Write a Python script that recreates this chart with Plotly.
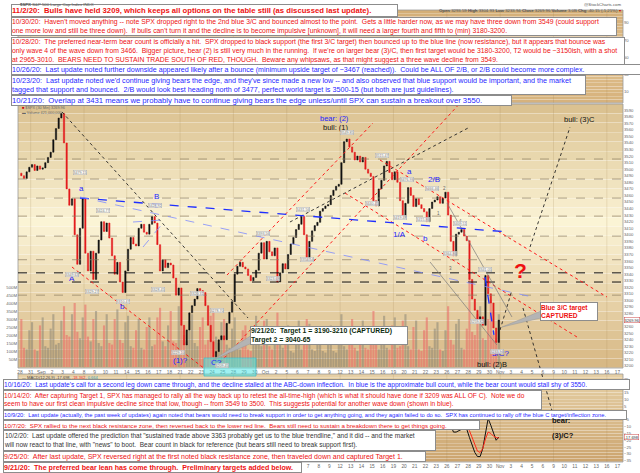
import plotly.graph_objects as go

W, H = 640, 473
FONT = "Liberation Sans, Arial, sans-serif"
RED = "#ee1111"
BLUE = "#1f1fff"

# trading days on the time axis, Aug 28 .. Nov 17 2020 (one tick per session)
day_labels = ["28", "31", "Sep", "2", "3", "4", "8", "9", "10", "11", "14", "15", "16", "17", "18",
              "21", "22", "23", "24", "25", "28", "29", "30", "Oct", "2", "5", "6", "7", "8", "9",
              "12", "13", "14", "15", "16", "19", "20", "21", "22", "23", "26", "27", "28", "29",
              "30", "Nov", "3", "4", "5", "6", "9", "10", "11", "12", "13", "16", "17"]

# SPX path, four readings per session (Aug 28 .. Oct 30)
first_open = 3494
spx = [
    3490, 3486, 3496, 3503,  3507, 3498, 3505, 3500,  3502, 3510, 3518, 3526,
    3545, 3562, 3578, 3585,  3540, 3470, 3445, 3455,  3400, 3355, 3410, 3455,
    3372, 3345, 3375, 3332,  3372, 3392, 3420, 3405,  3418, 3395, 3368, 3340,
    3358, 3328, 3312, 3345,  3378, 3396, 3386, 3383,  3410, 3416, 3404, 3401,
    3416, 3428, 3418, 3385,  3345, 3362, 3350, 3357,  3354, 3334, 3308, 3319,
    3262, 3232, 3255, 3281,  3292, 3302, 3318, 3315,  3312, 3292, 3262, 3237,
    3214, 3222, 3240, 3246,  3240, 3265, 3282, 3298,  3340, 3352, 3358, 3351,
    3348, 3338, 3330, 3335,  3346, 3372, 3388, 3363,  3390, 3374, 3368, 3380,
    3328, 3342, 3356, 3348,  3370, 3386, 3396, 3408,  3416, 3428, 3400, 3361,
    3390, 3406, 3414, 3419,  3436, 3440, 3444, 3446,  3460, 3468, 3474, 3477,
    3510, 3542, 3546, 3534,  3526, 3514, 3520, 3511,  3518, 3500, 3494, 3489,
    3452, 3444, 3470, 3483,  3505, 3512, 3495, 3484,  3496, 3480, 3452, 3427,
    3448, 3472, 3460, 3443,  3455, 3446, 3440, 3435,  3420, 3440, 3450, 3453,
    3458, 3448, 3456, 3465,  3430, 3390, 3368, 3401,  3404, 3408, 3398, 3391,
    3332, 3302, 3285, 3271,  3275, 3262, 3338, 3310,  3296, 3258, 3236, 3270,
]

# volume per bar, millions
volume = [
    300, 120, 110, 230,  280, 110, 100, 260,  310, 130, 120, 240,  330, 140, 150, 290,
    380, 200, 190, 330,  400, 220, 180, 310,  390, 190, 160, 300,  350, 150, 130, 260,
    330, 150, 140, 300,  360, 170, 150, 280,  320, 130, 120, 230,  300, 120, 110, 250,
    310, 130, 140, 310,  370, 160, 130, 260,  350, 160, 150, 380,  420, 200, 160, 290,
    330, 150, 130, 250,  310, 140, 170, 320,  360, 190, 150, 280,  300, 140, 120, 240,
    310, 120, 110, 230,  260, 110, 100, 220,  320, 150, 130, 290,  300, 130, 110, 240,
    340, 140, 120, 250,  260, 100, 90, 210,  290, 110, 180, 300,  270, 110, 100, 220,
    250, 100, 90, 200,  260, 100, 90, 220,  330, 130, 110, 250,  300, 120, 100, 230,
    290, 120, 110, 240,  350, 140, 110, 240,  320, 120, 110, 260,  310, 120, 130, 290,
    330, 130, 110, 250,  290, 110, 100, 230,  310, 130, 120, 240,  280, 110, 100, 230,
    380, 170, 140, 270,  300, 120, 110, 240,  590, 220, 200, 330,  380, 180, 170, 300,
    420, 200, 180, 330,
]

# MACD(12,26,9) from Oct 12 (session 30) onward
macd_start = 30
macd_line = [
    18, 22, 24, 24,  22, 19, 18, 16,  15, 12, 10, 8,  3, 0, 1, 3,  5, 6, 5, 3,
    2, 0, -4, -8,  -6, -3, -3, -4,  -3, -4, -5, -6,  -8, -7, -5, -3,  -2, -2, -2, -1,
    -4, -9, -14, -14,  -13, -12, -12, -12,  -18, -24, -29, -32,  -32, -26, -14, -4,
    -9, -15, -20, -17.698,
]
macd_signal = [
    12, 14, 16, 18,  19, 19, 19, 18,  17, 16, 15, 13,  11, 9, 7, 6,  6, 6, 6, 5,
    5, 4, 2, 0,  -1, -1, -2, -2,  -2, -3, -3, -4,  -4, -5, -5, -5,  -4, -4, -3, -3,
    -3, -4, -6, -8,  -9, -10, -10, -11,  -13, -18, -24, -28,  -29, -26, -19, -14,
    -15, -17, -18, -18.362,
]

# marked pivots (session position, price)
pivot_day = [5.6, 4.9, 6.75, 7.8, 9.65, 12.65, 12.95, 14.8, 16.6, 18.45, 18.95, 22.8, 23.7,
             26.9, 26.5, 30.65, 33.9, 36.3, 33.0, 35.6, 37.8, 38.6, 41.2, 40.3, 43.6, 42.8, 44.7]
pivot_price = [3479.15, 3349.63, 3329.27, 3424.77, 3310.47, 3428.92, 3328.45, 3229.10, 3320.31,
               3278.70, 3209.45, 3393.56, 3323.69, 3354.54, 3431.56, 3549.85, 3515.47, 3476.93,
               3440.45, 3419.48, 3415.86, 3466.46, 3409.51, 3364.86, 3341.05, 3259.82, 3233.94]
pivot_shift = [10, -7, -10, 8, -8, 10, -8, -6, -6, 4, -6, 6, 6, 5, 5, 4, 4, 5, 5, 5, 5, 3, 5, 4, 4, 5, -8]

# trend lines: (session0, price0, session1, price1)
red_lines = [(4.87, 3350.9, 18.93, 3175.6), (19.40, 3338.7, 33.08, 3570.4),
             (17.24, 3178.7, 41.52, 3605.5), (33.74, 3514.0, 55.01, 3305.2),
             (30.46, 3463.7, 52.20, 3244.2)]
black_lines = [(3.94, 3587.2, 21.37, 3273.2), (25.30, 3419.5, 42.17, 3564.3),
               (47.80, 3381.4, 51.55, 3564.3), (44.99, 3254.9, 46.11, 3315.9),
               (47.14, 3288.4, 49.86, 3132.9)]
gray_lines = [(40.02, 3448.5, 46.11, 3274.7), (38.43, 3358.5, 44.70, 3232.0)]
blue_thick = [(5.62, 3456.1, 45.74, 3404.3), (43.58, 3335.7, 44.42, 3247.3)]
blue_thin = [(5.62, 3457.6, 48.45, 3303.7), (10.59, 3419.5, 13.40, 3422.6),
             (11.53, 3381.4, 13.40, 3418.0)]
gray_levels = [3515.5, 3485, 3456, 3428.5, 3398, 3362, 3308]
black_levels = [3342, 3328]

# wave labels: (text, session, price, colour, size)
wave_labels = [
    ("a", 5.72, 3471, BLUE, 8), ("B", 12.75, 3459, BLUE, 8), ("c", 12.75, 3445, BLUE, 8),
    ("A", 4.87, 3334, BLUE, 8), ("b", 9.65, 3291, BLUE, 8), ("(1)?", 15.0, 3209, BLUE, 8),
    ("C?", 18.37, 3205, BLUE, 8), ("bear: (2)", 29.5, 3578, BLUE, 7.5),
    ("bull: (1)", 29.6, 3564, "#111", 7.5), ("a", 36.46, 3497, BLUE, 8),
    ("2/B", 38.8, 3485, BLUE, 8), ("1/A", 35.6, 3401, BLUE, 8), ("b", 37.96, 3395, BLUE, 8),
    ("1", 39.18, 3433, "#666", 4.5), ("2", 39.74, 3471, "#666", 4.5),
    ("3", 40.3, 3349, "#666", 4.5), ("4", 41.33, 3421, "#666", 4.5),
    ("3/C?", 45.0, 3219, BLUE, 8), ("bull: (2)B", 44.2, 3203, "#111", 7.5),
    ("bull: (3)C", 52.39, 3576, "#111", 7.5),
]

week_starts = [1, 6, 10, 15, 20, 25, 30, 35, 40, 45, 50, 55]


def py(y):
    return 1 - y / H


X0, X1 = 18, 623
xs = [i / 4 + 0.125 for i in range(len(spx))]
opens = [first_open] + spx[:-1]
highs = [max(o, c) for o, c in zip(opens, spx)]
lows = [min(o, c) for o, c in zip(opens, spx)]
vol_colors = ["rgba(120,120,110,0.45)" if c >= o else "rgba(235,100,100,0.55)"
              for o, c in zip(opens, spx)]
macd_x = xs[macd_start * 4:]

fig = go.Figure()
fig.add_trace(go.Bar(x=xs, y=volume, width=0.2, marker=dict(color=vol_colors, line_width=0),
                     xaxis="x", yaxis="y"))
fig.add_trace(go.Candlestick(x=xs, open=opens, high=highs, low=lows, close=spx,
                             xaxis="x", yaxis="y2", whiskerwidth=0,
                             increasing=dict(line=dict(color="#111", width=0.5), fillcolor="#111"),
                             decreasing=dict(line=dict(color="#e31a1c", width=0.5), fillcolor="#e31a1c")))
fig.add_trace(go.Scatter(x=macd_x, y=macd_line, mode="lines", line=dict(color="#111", width=1),
                         xaxis="x2", yaxis="y3"))
fig.add_trace(go.Scatter(x=macd_x, y=macd_signal, mode="lines", line=dict(color="#ff2a1a", width=1),
                         xaxis="x2", yaxis="y3"))
fig.add_trace(go.Scatter(x=[None], y=[None], xaxis="x3", yaxis="y4"))

shapes = []


def gradient(y_top, y_bot, stops, n=28):
    h = (y_bot - y_top) / n
    for i in range(n):
        t = (i + 0.5) / n
        for (t0, c0), (t1, c1) in zip(stops[:-1], stops[1:]):
            if t0 <= t <= t1:
                f = (t - t0) / (t1 - t0)
                c = [round(a + (b - a) * f) for a, b in zip(c0, c1)]
                break
        shapes.append(dict(type="rect", xref="paper", yref="paper", layer="below",
                           x0=X0 / W, x1=X1 / W, y0=py(y_top + i * h), y1=py(y_top + (i + 1) * h) + 0.0005,
                           fillcolor="rgb(%d,%d,%d)" % tuple(c), line_width=0))


PANES = [(10, 103), (104, 368), (374, 462)]
gradient(10, 103, [(0, (212, 174, 118)), (0.5, (224, 192, 142)), (1, (214, 178, 124))])
gradient(104, 368, [(0, (218, 192, 142)), (0.45, (251, 244, 214)), (1, (214, 182, 130))])
gradient(374, 462, [(0, (230, 208, 165)), (0.4, (220, 192, 146)), (1, (204, 164, 110))])

for y0, y1 in PANES:
    shapes.append(dict(type="rect", xref="paper", yref="paper", x0=X0 / W, x1=X1 / W,
                       y0=py(y1), y1=py(y0), line=dict(color="#9a9a9a", width=0.8)))
    for d in week_starts:
        shapes.append(dict(type="line", xref="x", yref="paper", x0=d, x1=d, y0=py(y1), y1=py(y0),
                           layer="below", line=dict(color="rgba(150,120,70,0.22)", width=0.8)))

for lv in gray_levels:
    shapes.append(dict(type="line", xref="paper", yref="y2", x0=X0 / W, x1=X1 / W, y0=lv, y1=lv,
                       line=dict(color="#8c7c62", width=0.7, dash="dash")))
for lv in black_levels:
    shapes.append(dict(type="line", xref="paper", yref="y2", x0=X0 / W, x1=X1 / W, y0=lv, y1=lv,
                       line=dict(color="#111", width=1, dash="dash")))


def seg(lines, color, width, dash):
    for a, b, c, d in lines:
        shapes.append(dict(type="line", xref="x", yref="y2", x0=a, y0=b, x1=c, y1=d,
                           line=dict(color=color, width=width, dash=dash)))


seg(red_lines, "#ff1a1a", 1, "dot")
seg(black_lines, "#222", 0.9, "dot")
seg(gray_lines, "#7a7a7a", 0.7, "solid")
seg(blue_thick, "#1f2fff", 1.3, "dash")
seg(blue_thin, "#7f8cff", 0.8, "dash")
# bear projection carries on into the MACD pane
shapes.append(dict(type="line", xref="x2", yref="y3", x0=48.9, y0=28.7, x1=49.89, y1=0.7,
                   line=dict(color="#222", width=0.9, dash="dot")))

# cyan target zone and callout pointers
shapes.append(dict(type="rect", xref="paper", yref="paper", x0=204 / W, x1=256 / W, y0=py(376), y1=py(358),
                   fillcolor="rgba(80,230,230,0.55)", line=dict(color="rgba(60,190,200,0.9)", width=0.8)))
shapes.append(dict(type="path", xref="paper", yref="paper",
                   path="M %f %f L %f %f L %f %f Z" % (252 / W, py(335), 213 / W, py(360), 252 / W, py(343)),
                   fillcolor="#b4b4b4", line=dict(color="#999", width=0.5)))
shapes.append(dict(type="path", xref="paper", yref="paper",
                   path="M %f %f L %f %f L %f %f Z" % (541 / W, py(311), 502 / W, py(327), 541 / W, py(318)),
                   fillcolor="#b4b4b4", line=dict(color="#999", width=0.5)))

ann = []


def box(x0, y0, x1, y1, text, color, size, bold=False):
    t = text.replace("  ", "&nbsp; ")
    if bold:
        t = "<b>" + t + "</b>"
    ann.append(dict(x=x0 / W, y=py(y0), xref="paper", yref="paper", xanchor="left", yanchor="top",
                    text=t, showarrow=False, align="left", valign="middle",
                    width=x1 - x0 - 2, height=y1 - y0 - 2, bgcolor="white",
                    bordercolor="#8c8c8c", borderwidth=1, borderpad=0,
                    font=dict(family=FONT, size=size, color=color)))


box(11, 4, 398, 17, "11/2/20:  Bulls have held 3209, which keeps all options on the table still (as discussed last update).", RED, 7.7, True)
box(11, 17, 617, 36, "10/30/20:  Haven't moved anything -- note SPX dropped right to the 2nd blue 3/C and bounced almost to the point.  Gets a little harder now, as we may have three down from 3549 (could support<br>one more low and still be three down).  If bulls can't turn it and the decline is to become impulsive [unknown], it will need a larger fourth and fifth to (min) 3180-3200.", RED, 6.85)
box(11, 36.5, 625, 64, "10/28/20:  The preferred near-term bear count is officially a hit.  SPX dropped to black support (the first 3/C target) then bounced up to the blue line (now resistance), but it appears that bounce was<br>only wave 4 of the wave down from 3466.  Bigger picture, bear (2) is still very much in the running.  If we're on larger bear (3)/C, then first target would be 3180-3200, T2 would be ~3150ish, with a shot<br>at 2965-3010.  BEARS NEED TO SUSTAIN TRADE SOUTH OF RED, THOUGH.  Beware any whipsaws, as that might suggest a three wave decline from 3549.", RED, 6.85)
box(11, 64, 642, 75, "10/26/20:  Last update noted further downside appeared likely after a bounce (minimum upside target of ~3467 (reached)).  Could be ALL OF 2/B, or 2/B could become more complex.", BLUE, 7.1)
box(11, 75, 586, 95, "10/23/20:  Last update noted we'd continue giving bears the edge, and they've since made a new low -- and also observed that blue support would be important, and the market<br>tagged that support and bounced.  2/B would look best heading north of 3477, perfect world target is 3500-15 (but both are just guidelines).", BLUE, 7.2)
box(11, 95, 512, 106, "10/21/20:  Overlap at 3431 means we probably have to continue giving bears the edge unless/until SPX can sustain a breakout over 3550.", BLUE, 7.7)
box(3, 379, 630, 390, "10/16/20:  Last update's call for a second leg down came through, and the decline stalled at the ABC-down inflection.  In blue is the approximate bull count, while the bear count would stall shy of 3550.", BLUE, 6.6)
box(3, 390, 542, 410, "10/14/20:  After capturing Target 1, SPX has managed to rally all the way back up to retest the all-time-high (which is what it should have done if 3209 was ALL OF C).  Note we do<br>seem to have our first clean impulsive decline since that low, though -- from 3549 to 3500.  This suggests potential for another wave down (shown in blue).", RED, 6.6)
box(3, 410, 627, 420, "10/9/20:  Last update (actually, the past week of updates) again noted that bears would need to break support in order to get anything going, and they again failed to do so.  SPX has continued to rally off the blue C target/inflection zone.", BLUE, 5.8)
box(3, 420, 480, 430, "10/7/20:  SPX rallied to the next black resistance zone, then reversed back to the lower red line.  Bears still need to sustain a breakdown there to get things going.", RED, 6.2)
box(3, 430, 436, 451, "10/2/20:  Last update offered the prediction that \"sustained trade above 3363 probably get us to the blue trendline,\" and it did -- and the market<br>will now react to that line, with \"news\" to boot.  Bear count in black for reference (but bears still need to break support first).", "#333", 6.5)
box(3, 451, 426, 462, "9/25/20:  After last update, SPX reversed right at the first noted black resistance zone, then traveled down and captured Target 1.", RED, 7.0)
box(3, 462, 302, 473, "9/21/20:  The preferred bear lean has come through.  Preliminary targets added below.", RED, 7.1, True)
box(250, 326, 408, 345, "9/21/20:  Target 1 = 3190-3210 (CAPTURED)<br>Target 2 = 3040-65", "#0d2b0d", 6.9, True)
box(540, 302, 598, 321, "Blue 3/C target<br>CAPTURED", RED, 6.6, True)

for txt, d, p, col, sz in wave_labels:
    ann.append(dict(x=d, y=p, xref="x", yref="y2", text=txt, showarrow=False,
                    font=dict(family=FONT, size=sz, color=col)))
ann.append(dict(x=46.86, y=3346, xref="x", yref="y2", text="<b>?</b>", showarrow=False,
                font=dict(family=FONT, size=21, color="#ee1111")))
ann.append(dict(x=550 / W, y=py(427), xref="paper", yref="paper", xanchor="left", text="<b>bear:</b>",
                showarrow=False, font=dict(family=FONT, size=7.5, color="#111")))
ann.append(dict(x=550 / W, y=py(442), xref="paper", yref="paper", xanchor="left", text="<b>(3)/C?</b>",
                showarrow=False, font=dict(family=FONT, size=7.5, color="#111")))

for d, p, s in zip(pivot_day, pivot_price, pivot_shift):
    ann.append(dict(x=d, y=p, xref="x", yref="y2", yshift=s, text="%.2f" % p, showarrow=False,
                    bgcolor="rgba(255,255,255,0.85)", bordercolor="#aaa", borderwidth=0.5, borderpad=0,
                    font=dict(family=FONT, size=3.6, color="#777")))

ann.append(dict(x=624 / W, y=3269.96, xref="paper", yref="y2", xanchor="left", text="3269.96",
                showarrow=False, bgcolor="white", bordercolor="#c44", borderwidth=0.5, borderpad=0,
                font=dict(family=FONT, size=4, color="#333")))
ann.append(dict(x=624 / W, y=-17.698, xref="paper", yref="y3", xanchor="left", text="-17.698",
                showarrow=False, bgcolor="white", bordercolor="#c44", borderwidth=0.5, borderpad=0,
                font=dict(family=FONT, size=4, color="#333")))

small = dict(family=FONT, size=4.3, color="#555")
ann.append(dict(x=18 / W, y=py(0), xref="paper", yref="paper", xanchor="left", yanchor="top",
                text="<b>$SPX</b> S&P 500 Large Cap Index INDX", showarrow=False, font=small))
ann.append(dict(x=623 / W, y=py(0), xref="paper", yref="paper", xanchor="right", yanchor="top",
                text="@StockCharts.com", showarrow=False, font=small))
ann.append(dict(x=623 / W, y=py(6), xref="paper", yref="paper", xanchor="right", yanchor="top",
                text="<b>Open</b> 3293.59 <b>High</b> 3304.93 <b>Low</b> 3233.94 <b>Close</b> 3269.96 "
                     "<b>Volume</b> 3.0B <b>Chg</b> -40.15 (-1.21%) <span style='color:#c00'>▾</span>",
                showarrow=False, font=small))
ann.append(dict(x=20 / W, y=py(104), xref="paper", yref="paper", xanchor="left", yanchor="top",
                text="<span style='color:#c00'>■</span> $SPX (30 Min) 3269.96<br>▬ Volume 421,000,000",
                showarrow=False, align="left", font=dict(family=FONT, size=3.8, color="#666")))
ann.append(dict(x=20 / W, y=py(373), xref="paper", yref="paper", xanchor="left", yanchor="top",
                text="— MACD(12,26,9) -17.698, <span style='color:#e33'>-18.362</span>, "
                     "<span style='color:#39a'>0.664</span>",
                showarrow=False, font=dict(family=FONT, size=4, color="#444")))

xr = [(X0 - 20) / 10.67, (X1 - 20) / 10.67]
tickfont = dict(family=FONT, size=4.8, color="#666")
xcommon = dict(domain=[X0 / W, X1 / W], range=xr, showgrid=False, zeroline=False,
               tickvals=list(range(len(day_labels))), ticktext=day_labels, tickfont=tickfont,
               ticks="", rangeslider=dict(visible=False))

fig.update_layout(
    width=W, height=H, margin=dict(l=0, r=0, t=0, b=0),
    paper_bgcolor="white", plot_bgcolor="rgba(0,0,0,0)",
    showlegend=False, hovermode=False,
    xaxis=dict(anchor="y", **xcommon),
    xaxis2=dict(anchor="y3", matches="x", **xcommon),
    xaxis3=dict(anchor="y4", matches="x", **{**xcommon, "showticklabels": False}),
    yaxis=dict(domain=[py(368), py(104)], range=[-6.25, 1643.75], side="left",
               tickvals=list(range(50, 501, 50)), ticktext=["%dM" % v for v in range(50, 501, 50)],
               tickfont=dict(family=FONT, size=4.3, color="#666"), showgrid=False, zeroline=False, ticks=""),
    yaxis2=dict(overlaying="y", side="right", range=[3196.95, 3599.4],
                tickvals=list(range(3200, 3600, 10)), tickfont=dict(family=FONT, size=4.2, color="#666"),
                showgrid=False, zeroline=False, ticks=""),
    yaxis3=dict(anchor="x2", domain=[py(462), py(374)], range=[-36.0, 28.7], side="right",
                tickvals=list(range(-35, 30, 5)), tickfont=dict(family=FONT, size=4.2, color="#666"),
                showgrid=False, zeroline=False, ticks=""),
    yaxis4=dict(anchor="x3", domain=[py(103), py(10)], range=[-2.8, 105], side="right",
                tickvals=[10, 30, 50, 70, 90], tickfont=dict(family=FONT, size=4.2, color="#666"),
                showgrid=False, zeroline=False, ticks=""),
    shapes=shapes, annotations=ann,
)

fig.write_html("out.html", config={"displayModeBar": False},
               post_script="document.body.style.margin='0px';document.body.style.overflow='hidden';")
